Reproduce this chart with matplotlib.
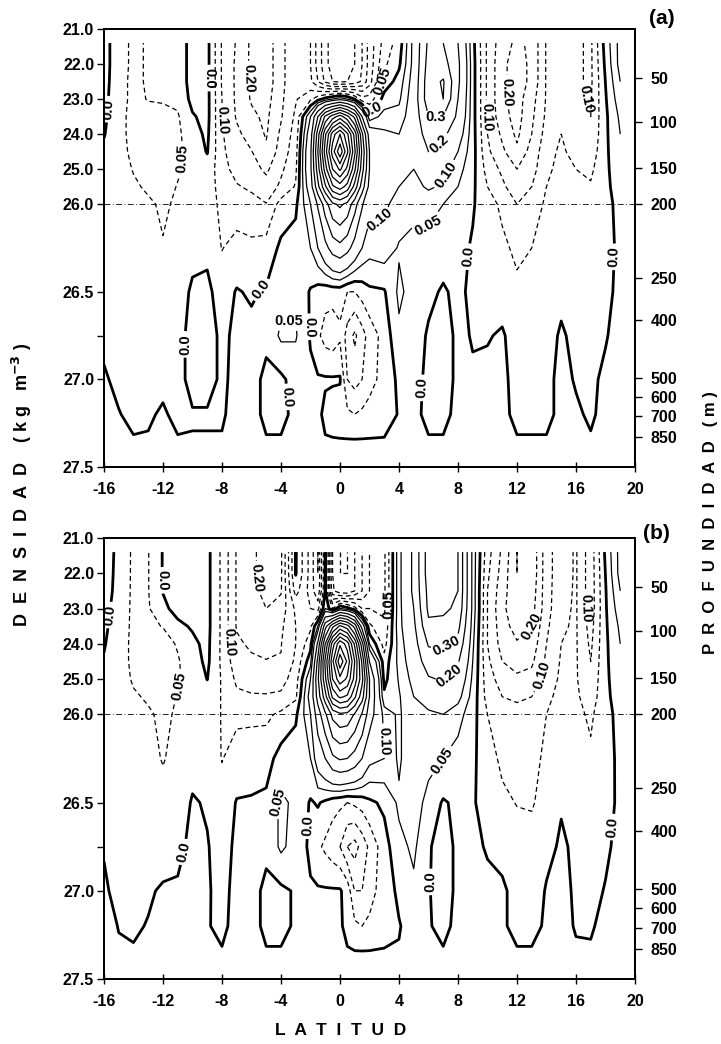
import numpy as np
import matplotlib
matplotlib.use('Agg')
import matplotlib.pyplot as plt

plt.rcParams['font.family'] = ['Liberation Sans', 'DejaVu Sans']
plt.rcParams['font.weight'] = 'bold'
plt.rcParams['mathtext.default'] = 'bf'
plt.rcParams['lines.dashed_pattern'] = [3.8, 2.6]

# grid of the section: latitude nodes and density (sigma-t) nodes
lat_nodes = [-16, -15, -14, -13, -12, -11, -10, -9, -8, -7, -6, -5, -4, -3,
             -2, -1.5, -1, -0.5, 0, 0.5, 1, 1.5, 2, 3,
             4, 5, 6, 7, 8, 9, 10, 11, 12, 13, 14, 15, 16, 17, 18, 19]
dens_nodes = [21.4, 22.0, 22.5, 23.0, 23.5, 24.0, 24.5, 25.0, 25.5, 26.0,
              26.25, 26.5, 26.75, 27.0, 27.2, 27.35]

# zonal velocity (m/s), one profile per latitude node
u_a = [
    [0.02, 0.02, 0.02, 0.015, 0.01, 0.003, -0.01, -0.02, -0.02, -0.02, -0.02, -0.015, -0.01, 0.005, 0.01, 0.003],
    [-0.03, -0.03, -0.035, -0.035, -0.035, -0.035, -0.035, -0.035, -0.03, -0.03, -0.025, -0.02, -0.015, -0.01, 0.002, 0.003],
    [-0.06, -0.06, -0.06, -0.06, -0.065, -0.065, -0.06, -0.052, -0.045, -0.04, -0.035, -0.03, -0.03, -0.025, -0.01, 0.003],
    [-0.045, -0.045, -0.045, -0.048, -0.065, -0.075, -0.075, -0.07, -0.055, -0.045, -0.04, -0.035, -0.03, -0.02, -0.005, 0.003],
    [-0.04, -0.04, -0.04, -0.045, -0.065, -0.08, -0.08, -0.075, -0.065, -0.055, -0.048, -0.04, -0.03, -0.01, 0.005, 0.003],
    [-0.03, -0.03, -0.03, -0.04, -0.055, -0.06, -0.06, -0.055, -0.048, -0.045, -0.04, -0.03, -0.02, -0.02, -0.01, 0.003],
    [0.02, 0.02, 0.02, 0.015, -0.005, -0.02, -0.03, -0.035, -0.03, -0.03, -0.02, 0.01, 0.02, 0.02, -0.005, 0.003],
    [0.015, 0.015, 0.015, 0.015, 0.015, 0.01, 0.003, -0.02, -0.025, -0.03, -0.01, 0.01, 0.02, 0.02, -0.005, 0.003],
    [-0.105, -0.105, -0.105, -0.1, -0.1, -0.095, -0.09, -0.08, -0.07, -0.06, -0.052, -0.02, -0.01, -0.01, -0.005, 0.003],
    [-0.155, -0.16, -0.16, -0.16, -0.155, -0.14, -0.13, -0.12, -0.095, -0.08, -0.03, 0.003, 0.01, 0.015, 0.015, 0.003],
    [-0.21, -0.21, -0.21, -0.205, -0.19, -0.17, -0.148, -0.13, -0.11, -0.08, -0.04, -0.005, 0.01, 0.015, 0.015, 0.003],
    [-0.23, -0.23, -0.23, -0.22, -0.21, -0.205, -0.19, -0.16, -0.13, -0.098, -0.03, 0.005, 0.01, -0.01, -0.01, 0.003],
    [-0.165, -0.165, -0.165, -0.16, -0.155, -0.14, -0.13, -0.11, -0.09, -0.03, 0.01, 0.03, 0.06, -0.01, -0.01, 0.003],
    [-0.11, -0.11, -0.11, -0.105, -0.09, -0.08, -0.07, -0.06, -0.045, -0.01, 0.02, 0.04, 0.055, 0.02, 0.01, 0.003],
    [-0.15, -0.15, -0.14, -0.06, 0.1, 0.15, 0.18, 0.18, 0.15, 0.1, 0.05, -0.005, -0.005, 0.01, 0.01, 0.003],
    [-0.22, -0.22, -0.2, -0.02, 0.3, 0.45, 0.5, 0.45, 0.37, 0.21, 0.1, -0.02, -0.04, 0.005, 0.01, 0.003],
    [-0.28, -0.28, -0.26, 0.02, 0.52, 0.78, 0.85, 0.75, 0.58, 0.35, 0.17, -0.03, -0.07, 0.005, -0.01, 0.003],
    [-0.33, -0.33, -0.3, 0.05, 0.65, 1.05, 1.15, 1.0, 0.78, 0.48, 0.24, -0.03, -0.08, 0.005, -0.02, 0.003],
    [-0.35, -0.35, -0.31, 0.08, 0.75, 1.2, 1.38, 1.12, 0.85, 0.52, 0.27, -0.03, -0.06, 0.005, -0.03, 0.003],
    [-0.33, -0.33, -0.3, 0.05, 0.63, 1.02, 1.12, 0.97, 0.76, 0.47, 0.23, -0.05, -0.12, -0.1, -0.04, 0.003],
    [-0.3, -0.3, -0.28, 0.0, 0.47, 0.76, 0.82, 0.72, 0.56, 0.34, 0.16, -0.05, -0.16, -0.12, -0.05, 0.003],
    [-0.25, -0.25, -0.24, -0.08, 0.2, 0.42, 0.48, 0.44, 0.35, 0.21, 0.1, -0.03, -0.12, -0.1, -0.04, 0.003],
    [-0.18, -0.18, -0.17, -0.08, 0.02, 0.15, 0.2, 0.2, 0.17, 0.12, 0.07, -0.01, -0.08, -0.07, -0.03, 0.003],
    [-0.08, -0.06, -0.03, 0.02, 0.07, 0.11, 0.13, 0.13, 0.12, 0.11, 0.08, -0.005, -0.03, -0.03, -0.02, 0.003],
    [-0.03, -0.01, 0.02, 0.04, 0.07, 0.1, 0.11, 0.11, 0.1, 0.08, 0.045, 0.06, 0.04, 0.01, 0.003, 0.003],
    [0.12, 0.12, 0.13, 0.14, 0.14, 0.13, 0.12, 0.1, 0.08, 0.06, 0.04, 0.03, 0.02, 0.015, 0.01, 0.003],
    [0.32, 0.34, 0.36, 0.36, 0.3, 0.25, 0.2, 0.15, 0.11, 0.06, 0.04, 0.01, -0.005, -0.01, -0.01, 0.003],
    [0.3, 0.34, 0.41, 0.4, 0.3, 0.22, 0.17, 0.12, 0.09, 0.05, 0.02, -0.005, -0.02, -0.02, -0.01, 0.003],
    [0.2, 0.22, 0.22, 0.2, 0.18, 0.14, 0.1, 0.07, 0.05, 0.03, 0.015, 0.01, 0.01, 0.01, 0.01, 0.003],
    [0.015, 0.02, 0.02, 0.02, 0.02, 0.02, 0.02, 0.015, 0.01, 0.005, -0.005, -0.01, -0.003, 0.005, 0.01, 0.003],
    [-0.11, -0.11, -0.11, -0.11, -0.11, -0.1, -0.09, -0.07, -0.05, -0.03, -0.02, -0.015, -0.003, 0.01, 0.01, 0.003],
    [-0.18, -0.19, -0.19, -0.19, -0.18, -0.16, -0.14, -0.11, -0.09, -0.06, -0.04, -0.02, 0.005, 0.01, 0.01, 0.003],
    [-0.21, -0.22, -0.22, -0.22, -0.22, -0.21, -0.19, -0.15, -0.13, -0.1, -0.06, -0.04, -0.02, -0.015, -0.01, 0.003],
    [-0.19, -0.19, -0.19, -0.17, -0.16, -0.15, -0.13, -0.12, -0.1, -0.08, -0.05, -0.03, -0.02, -0.015, -0.01, 0.003],
    [-0.095, -0.095, -0.095, -0.095, -0.09, -0.08, -0.07, -0.06, -0.05, -0.04, -0.03, -0.02, -0.015, -0.01, -0.01, 0.003],
    [-0.075, -0.075, -0.075, -0.07, -0.06, -0.05, -0.04, -0.035, -0.03, -0.02, -0.015, -0.01, 0.005, 0.01, 0.01, 0.003],
    [-0.09, -0.09, -0.09, -0.09, -0.085, -0.08, -0.07, -0.05, -0.04, -0.03, -0.02, -0.015, -0.01, -0.003, 0.005, 0.003],
    [-0.11, -0.11, -0.11, -0.105, -0.1, -0.095, -0.08, -0.06, -0.045, -0.03, -0.02, -0.012, -0.008, -0.005, -0.005, 0.003],
    [0.02, 0.01, 0.001, -0.005, -0.01, -0.01, -0.01, -0.01, -0.01, -0.01, -0.008, -0.005, -0.002, 0.005, 0.01, 0.003],
    [0.12, 0.12, 0.1, 0.08, 0.06, 0.05, 0.04, 0.03, 0.02, 0.01, 0.005, 0.005, 0.01, 0.01, 0.01, 0.003],
]

# same section, panel (b)
u_b = [
    [0.02, 0.02, 0.02, 0.015, 0.01, 0.004, -0.004, -0.005, -0.005, -0.005, -0.005, -0.004, -0.002, 0.004, 0.01, 0.003],
    [-0.01, -0.012, -0.015, -0.02, -0.025, -0.03, -0.03, -0.03, -0.025, -0.02, -0.015, -0.012, -0.01, -0.008, -0.001, 0.003],
    [-0.06, -0.06, -0.06, -0.06, -0.06, -0.06, -0.06, -0.055, -0.045, -0.04, -0.035, -0.03, -0.02, -0.01, -0.005, 0.003],
    [-0.052, -0.052, -0.052, -0.055, -0.06, -0.065, -0.07, -0.065, -0.055, -0.045, -0.04, -0.03, -0.02, -0.005, 0.002, 0.003],
    [0.003, 0.003, 0.002, -0.01, -0.048, -0.07, -0.075, -0.07, -0.065, -0.058, -0.052, -0.04, -0.02, 0.005, 0.01, 0.003],
    [0.02, 0.02, 0.02, 0.015, -0.01, -0.045, -0.055, -0.055, -0.048, -0.045, -0.04, -0.03, -0.01, 0.005, 0.01, 0.003],
    [0.02, 0.02, 0.02, 0.02, 0.005, -0.01, -0.02, -0.03, -0.03, -0.025, -0.02, 0.005, 0.01, 0.01, 0.01, 0.003],
    [0.015, 0.015, 0.015, 0.015, 0.015, 0.012, 0.01, 0.001, -0.02, -0.03, -0.02, -0.005, 0.003, 0.005, 0.003, 0.003],
    [-0.06, -0.06, -0.06, -0.06, -0.06, -0.06, -0.06, -0.055, -0.053, -0.052, -0.052, -0.03, -0.02, -0.015, -0.01, 0.003],
    [-0.155, -0.155, -0.155, -0.155, -0.155, -0.14, -0.13, -0.11, -0.09, -0.06, -0.03, 0.003, 0.01, 0.015, 0.015, 0.003],
    [-0.19, -0.19, -0.19, -0.185, -0.175, -0.16, -0.14, -0.12, -0.095, -0.06, -0.025, 0.005, 0.01, 0.015, 0.015, 0.003],
    [-0.22, -0.22, -0.21, -0.2, -0.18, -0.165, -0.148, -0.125, -0.095, -0.06, -0.02, 0.01, 0.01, -0.01, -0.01, 0.003],
    [-0.21, -0.21, -0.205, -0.18, -0.16, -0.152, -0.148, -0.12, -0.09, -0.04, 0.02, 0.06, 0.06, -0.01, -0.01, 0.003],
    [0.005, 0.004, -0.03, -0.09, -0.1, -0.1, -0.09, -0.075, -0.06, -0.01, 0.03, 0.04, 0.03, 0.005, 0.005, 0.003],
    [-0.12, -0.12, -0.12, -0.1, -0.06, -0.02, 0.03, 0.1, 0.13, 0.1, 0.05, -0.005, -0.01, 0.005, 0.01, 0.003],
    [-0.2, -0.2, -0.19, -0.12, 0.05, 0.22, 0.33, 0.38, 0.34, 0.25, 0.14, 0.005, -0.04, 0.005, 0.01, 0.003],
    [0.003, 0.003, 0.004, 0.05, 0.36, 0.6, 0.72, 0.68, 0.56, 0.38, 0.2, -0.01, -0.06, 0.005, 0.005, 0.003],
    [-0.25, -0.25, -0.24, -0.05, 0.57, 0.95, 1.08, 1.0, 0.82, 0.53, 0.28, -0.03, -0.08, 0.005, 0.005, 0.003],
    [-0.3, -0.3, -0.29, 0.05, 0.72, 1.18, 1.38, 1.17, 0.92, 0.58, 0.31, -0.04, -0.1, 0.005, 0.005, 0.003],
    [-0.3, -0.3, -0.29, 0.02, 0.64, 1.05, 1.18, 1.08, 0.88, 0.57, 0.3, -0.05, -0.15, -0.02, -0.01, 0.003],
    [-0.25, -0.25, -0.25, -0.03, 0.46, 0.78, 0.9, 0.86, 0.72, 0.49, 0.26, -0.04, -0.17, -0.1, -0.04, 0.003],
    [-0.2, -0.2, -0.2, -0.1, 0.15, 0.44, 0.58, 0.63, 0.54, 0.39, 0.2, -0.03, -0.13, -0.1, -0.05, 0.003],
    [-0.15, -0.15, -0.15, -0.1, -0.04, 0.05, 0.2, 0.3, 0.3, 0.25, 0.12, -0.01, -0.09, -0.07, -0.04, 0.003],
    [-0.11, -0.11, -0.11, -0.11, -0.09, -0.07, -0.03, -0.015, 0.01, 0.08, 0.1, 0.01, -0.02, -0.025, -0.015, 0.003],
    [0.08, 0.08, 0.08, 0.08, 0.08, 0.07, 0.065, 0.055, 0.045, 0.04, 0.04, 0.06, 0.035, 0.01, -0.003, 0.003],
    [0.22, 0.22, 0.22, 0.2, 0.18, 0.16, 0.14, 0.12, 0.1, 0.1, 0.1, 0.08, 0.06, 0.04, 0.02, 0.003],
    [0.45, 0.45, 0.43, 0.42, 0.38, 0.31, 0.25, 0.19, 0.13, 0.09, 0.07, 0.03, 0.005, 0.003, 0.003, 0.003],
    [0.45, 0.46, 0.44, 0.42, 0.37, 0.32, 0.26, 0.21, 0.16, 0.1, 0.05, -0.005, -0.02, -0.02, -0.01, 0.003],
    [0.4, 0.4, 0.4, 0.38, 0.33, 0.27, 0.21, 0.16, 0.12, 0.07, 0.03, 0.01, 0.01, 0.01, 0.01, 0.003],
    [0.08, 0.08, 0.08, 0.08, 0.07, 0.06, 0.05, 0.04, 0.03, 0.02, 0.01, 0.005, 0.005, 0.01, 0.01, 0.003],
    [-0.08, -0.09, -0.1, -0.1, -0.1, -0.1, -0.09, -0.08, -0.07, -0.05, -0.03, -0.02, -0.002, 0.005, 0.01, 0.003],
    [-0.16, -0.17, -0.18, -0.19, -0.18, -0.17, -0.15, -0.12, -0.1, -0.08, -0.06, -0.04, -0.01, 0.005, 0.005, 0.003],
    [-0.25, -0.25, -0.24, -0.23, -0.22, -0.195, -0.17, -0.14, -0.11, -0.08, -0.06, -0.052, -0.03, -0.01, -0.01, 0.003],
    [-0.24, -0.24, -0.23, -0.22, -0.2, -0.18, -0.16, -0.13, -0.1, -0.08, -0.065, -0.055, -0.03, -0.02, -0.01, 0.003],
    [-0.12, -0.12, -0.12, -0.12, -0.11, -0.1, -0.09, -0.08, -0.065, -0.05, -0.04, -0.03, -0.01, 0.003, 0.005, 0.003],
    [-0.07, -0.07, -0.065, -0.06, -0.055, -0.05, -0.045, -0.04, -0.03, -0.02, -0.01, -0.003, 0.005, 0.008, 0.008, 0.003],
    [-0.045, -0.045, -0.045, -0.045, -0.045, -0.045, -0.045, -0.045, -0.04, -0.035, -0.02, -0.012, -0.006, -0.004, -0.002, 0.003],
    [-0.13, -0.13, -0.13, -0.13, -0.12, -0.11, -0.1, -0.09, -0.08, -0.06, -0.04, -0.025, -0.01, -0.005, -0.003, 0.003],
    [0.01, 0.001, -0.004, -0.006, -0.008, -0.01, -0.01, -0.01, -0.01, -0.01, -0.008, -0.005, -0.003, 0.001, 0.008, 0.003],
    [0.12, 0.12, 0.1, 0.08, 0.06, 0.05, 0.04, 0.03, 0.02, 0.01, 0.005, 0.003, 0.005, 0.01, 0.01, 0.003],
]

neg_levels = [-0.5, -0.4, -0.3, -0.25, -0.2, -0.15, -0.1, -0.05]
pos_levels = [0.05, 0.1, 0.2, 0.3, 0.4, 0.5, 0.6, 0.7, 0.8, 0.9, 1.0, 1.1, 1.2, 1.3]

lat_ticks = [-16, -12, -8, -4, 0, 4, 8, 12, 16, 20]
lat_minor = [-14, -10, -6, -2, 2, 6, 10, 14, 18]
dens_ticks = [21.0, 22.0, 23.0, 24.0, 25.0, 26.0, 26.5, 27.0, 27.5]
depth_labels = ['50', '100', '150', '200', '250', '400', '500', '600', '700', '850']
depth_dens = [22.4, 23.65, 24.97, 26.0, 26.42, 26.66, 26.99, 27.1, 27.21, 27.33]

# where the contour labels sit (lat, density)
lab_a = {
    'neg': [(-10.5, 24.7), (-7.8, 23.6), (-6.0, 22.4), (3.4, 22.6), (10.0, 23.5), (11.6, 22.8), (16.8, 23.0)],
    'zero': [(-15.3, 23.3), (-8.8, 22.4), (3.0, 23.6), (8.8, 26.3), (18.5, 26.3), (-10.3, 26.8),
             (-5.2, 26.5), (-2.2, 26.7), (-3.6, 27.1), (6.0, 27.05)],
    'pos': [(6.5, 23.5), (6.8, 24.3), (7.3, 25.2), (6.0, 26.2), (2.7, 26.1), (-3.5, 26.5)],
}
lab_b = {
    'neg': [(-10.85, 25.2), (-7.7, 23.95), (-5.0, 22.1), (3.2, 22.9), (13.0, 23.5), (13.7, 24.9), (16.7, 23.0)],
    'zero': [(-15.3, 23.2), (-11.9, 22.2), (-10.6, 26.78), (-2.4, 26.63), (6.2, 26.95), (18.6, 26.64)],
    'pos': [(-4.0, 26.5), (7.3, 24.1), (7.1, 24.8), (5.8, 26.2), (2.7, 26.15)],
}


def fwd(d):
    d = np.asarray(d, dtype=float)
    return np.where(d <= 26.0, d - 21.0, 5.0 + (d - 26.0) * 5.0)


def inv(y):
    y = np.asarray(y, dtype=float)
    return np.where(y <= 5.0, y + 21.0, 26.0 + (y - 5.0) / 5.0)


def fmt_a(v):
    if v == 0:
        return '0.0'
    if v > 0.15:
        return '%.1f' % v
    return '%.2f' % abs(v)


def fmt_b(v):
    if v == 0:
        return '0.0'
    return '%.2f' % abs(v)


def draw_panel(ax, field, fmt, labs, tag, tag_xy):
    ax.set_yscale('function', functions=(fwd, inv))
    ax.set_xlim(-16, 20)
    ax.set_ylim(27.5, 21.0)

    X, Y = np.meshgrid(lat_nodes, dens_nodes)
    Z = np.array(field).T

    cs_neg = ax.contour(X, Y, Z, levels=neg_levels, colors='k', linewidths=0.9, linestyles='dashed')
    cs_pos = ax.contour(X, Y, Z, levels=pos_levels, colors='k', linewidths=0.9, linestyles='solid')
    cs_zero = ax.contour(X, Y, Z, levels=[0.0], colors='k', linewidths=2.0, linestyles='solid')

    for cs, key in [(cs_neg, 'neg'), (cs_pos, 'pos'), (cs_zero, 'zero')]:
        txts = ax.clabel(cs, fmt=fmt, manual=labs[key], inline=True, inline_spacing=3, fontsize=10.5)
        for t in txts:
            t.set_fontweight('bold')

    ax.axhline(26.0, color='k', lw=0.6, ls=(0, (7, 3, 1, 3)))

    ax.set_xticks(lat_ticks)
    ax.set_xticklabels([str(v) for v in lat_ticks])
    ax.set_xticks(lat_minor, minor=True)
    ax.set_yticks(dens_ticks)
    ax.set_yticklabels(['%.1f' % v for v in dens_ticks])
    ax.set_yticks([26.75], minor=True)
    ax.tick_params(axis='x', which='both', direction='inout', length=7, width=1.0, pad=7, labelsize=11.5)
    ax.tick_params(axis='y', which='both', direction='out', length=5, width=1.0, pad=2, labelsize=11.5)
    for s in ax.spines.values():
        s.set_linewidth(1.4)

    ax2 = ax.twinx()
    ax2.set_yscale('function', functions=(fwd, inv))
    ax2.set_ylim(27.5, 21.0)
    ax2.set_yticks(depth_dens)
    ax2.set_yticklabels(depth_labels)
    ax2.tick_params(axis='y', direction='out', length=5, width=1.0, pad=6, labelsize=11.5)
    ax2.minorticks_off()
    for s in ax2.spines.values():
        s.set_linewidth(1.4)

    ax.figure.text(tag_xy[0], tag_xy[1], tag, fontsize=15, ha='center', va='center')


fig = plt.figure(figsize=(7.21, 10.44), dpi=100)
ax_a = fig.add_axes([0.1442, 0.5527, 0.7365, 0.4195])
ax_b = fig.add_axes([0.1442, 0.0623, 0.7365, 0.4224])

draw_panel(ax_a, u_a, fmt_a, lab_a, '(a)', (0.918, 0.982))
draw_panel(ax_b, u_b, fmt_b, lab_b, '(b)', (0.911, 0.489))

fig.text(0.031, 0.535, 'D  E  N  S  I  D  A  D    ( k g   m$^{-3}$ )',
         rotation=90, ha='center', va='center', fontsize=13)
fig.text(0.985, 0.499, 'P  R  O  F  U  N  D  I  D  A  D   ( m )',
         rotation=90, ha='center', va='center', fontsize=12)
fig.text(0.472, 0.0134, 'L  A  T  I  T  U  D', ha='center', va='center', fontsize=12.5)

fig.savefig('out.png', dpi=100)
